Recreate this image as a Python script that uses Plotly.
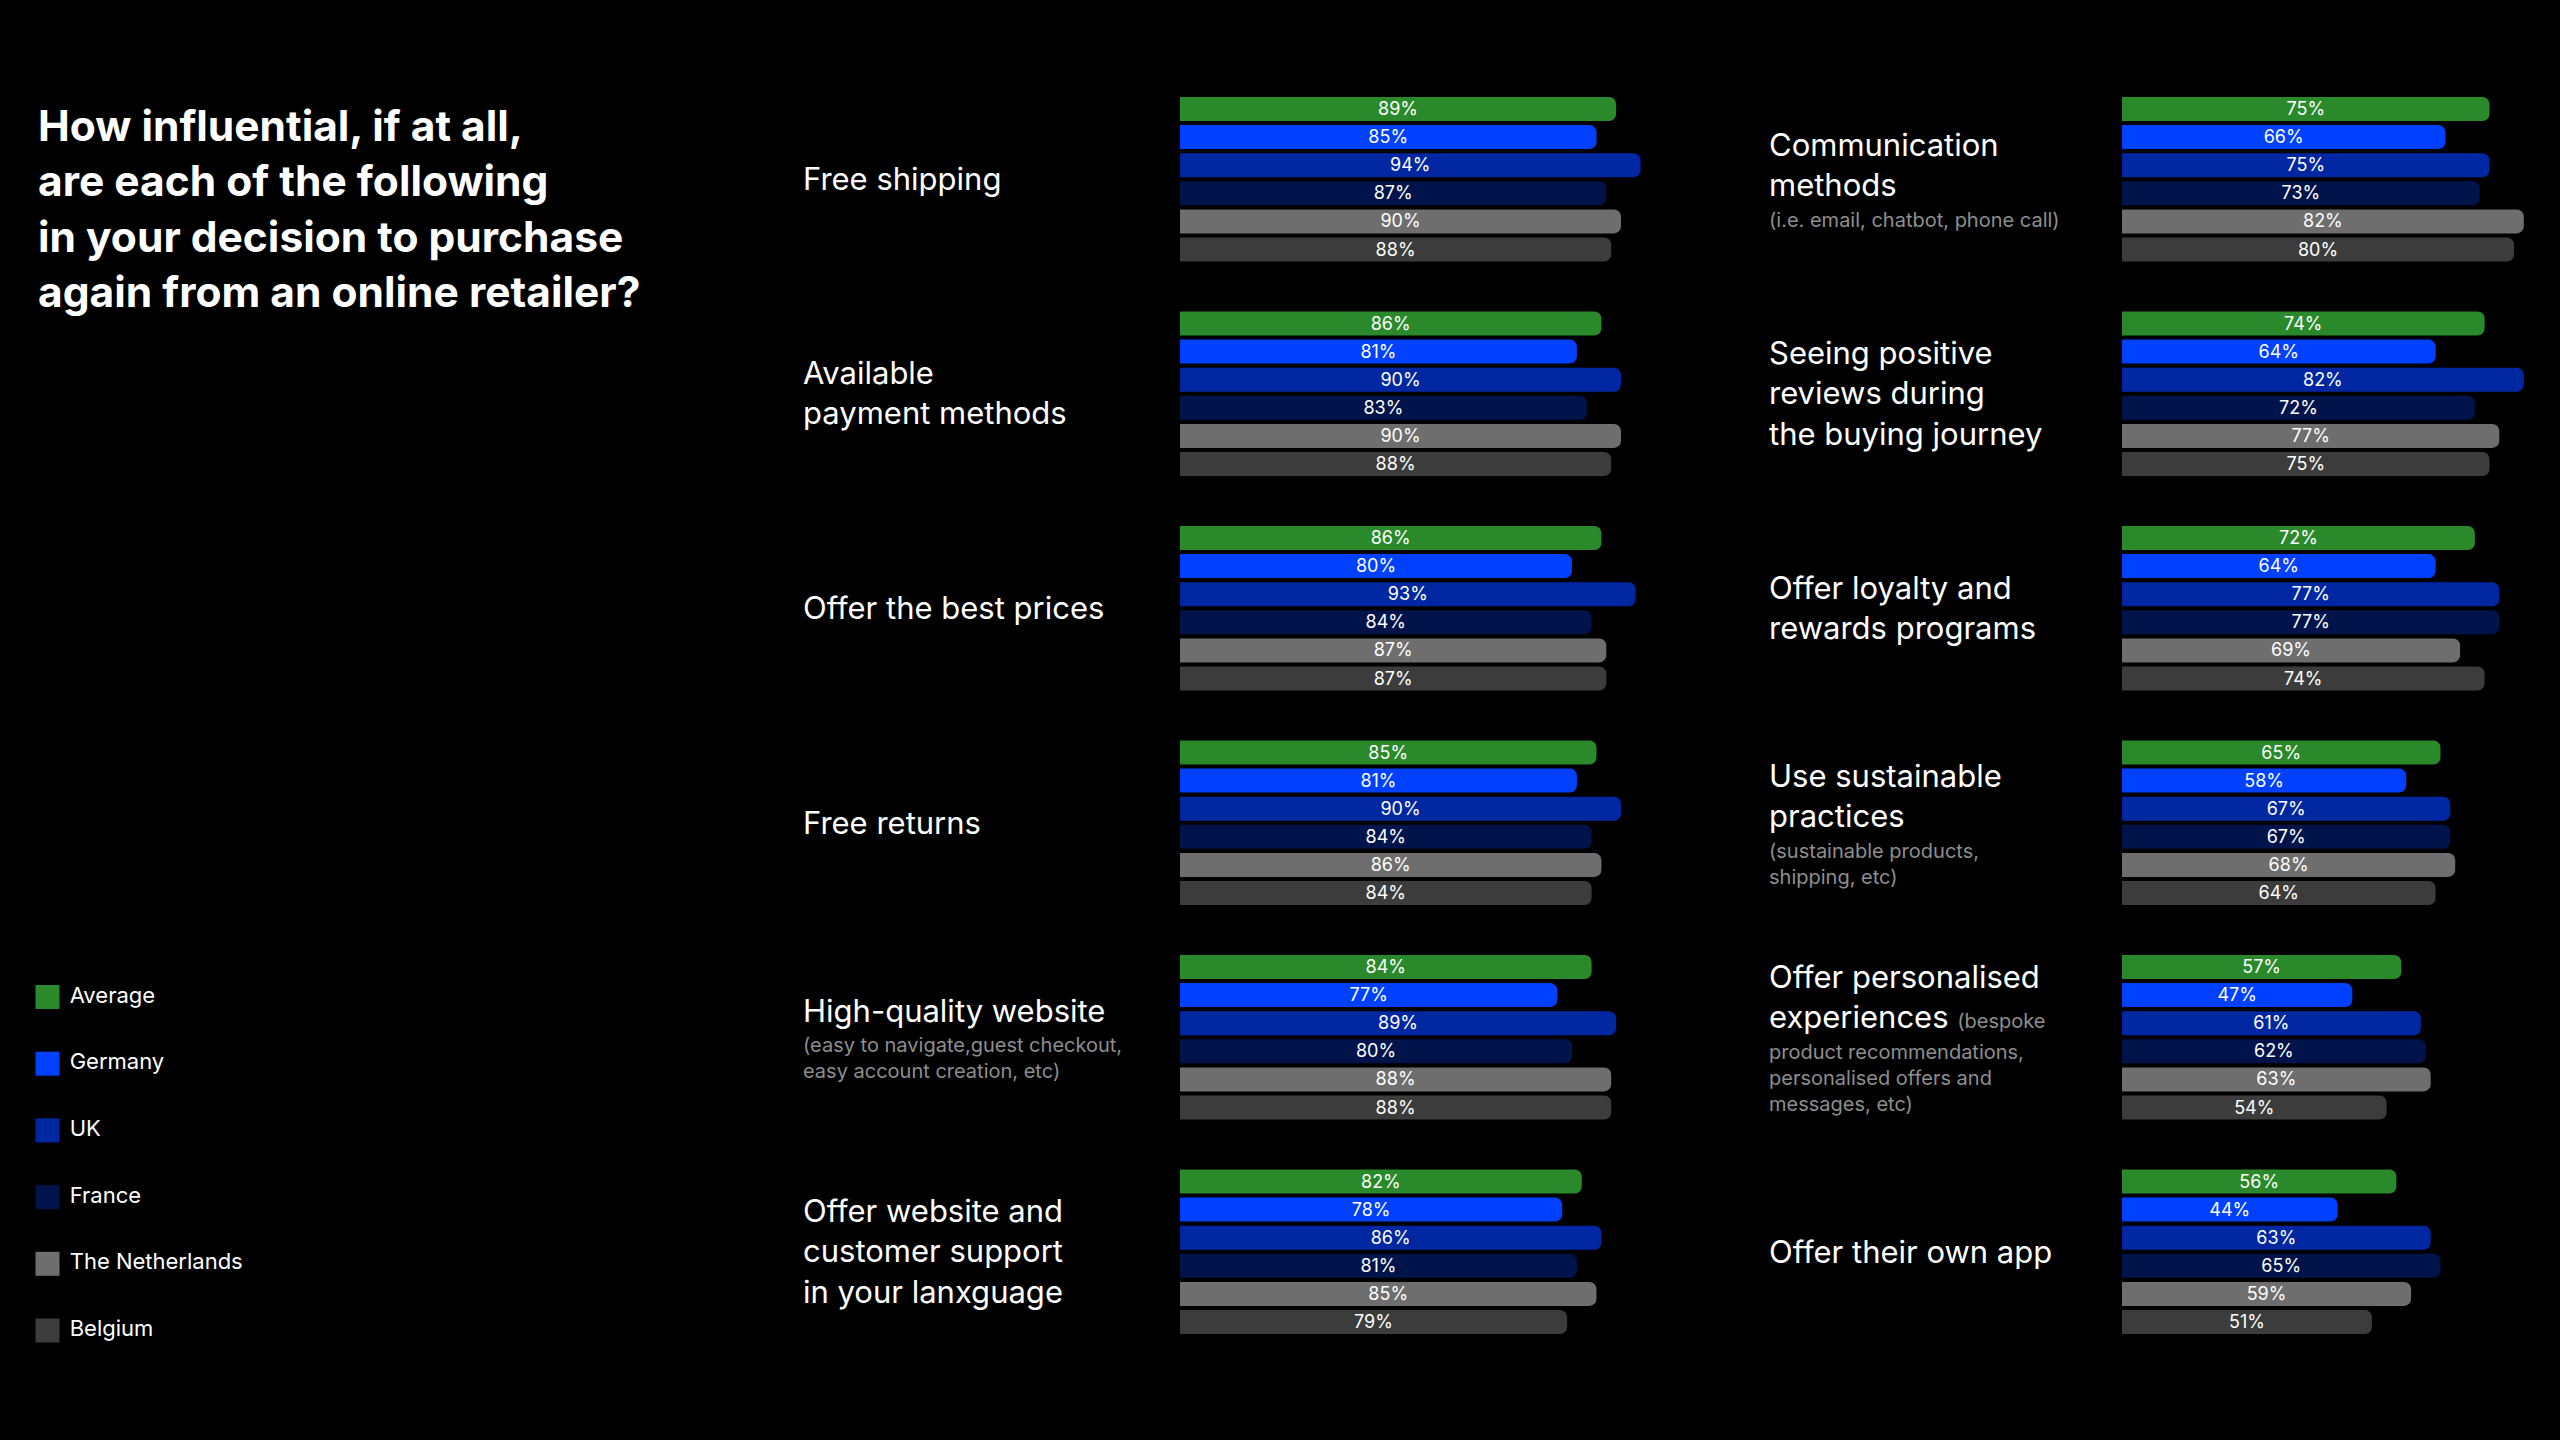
import plotly.graph_objects as go

# series / legend
countries = ["Average", "Germany", "UK", "France", "The Netherlands", "Belgium"]
colors = ["#2a8a2b", "#0040ff", "#0027a2", "#00134a", "#6e6e6e", "#3c3c3c"]

# left column
left_labels = ["Free shipping", "Available<br>payment methods", "Offer the best prices",
               "Free returns", "High-quality website",
               "Offer website and<br>customer support<br>in your lanxguage"]
left_subs = ["", "", "", "", "(easy to navigate,guest checkout,<br>easy account creation, etc)", ""]
left_values = [
    [89, 85, 94, 87, 90, 88],
    [86, 81, 90, 83, 90, 88],
    [86, 80, 93, 84, 87, 87],
    [85, 81, 90, 84, 86, 84],
    [84, 77, 89, 80, 88, 88],
    [82, 78, 86, 81, 85, 79],
]

# right column
right_labels = ["Communication<br>methods", "Seeing positive<br>reviews during<br>the buying journey",
                "Offer loyalty and<br>rewards programs", "Use sustainable<br>practices",
                "Offer personalised<br>experiences <span style='font-size:20px;color:#8e8e8e'>(bespoke</span>",
                "Offer their own app"]
right_subs = ["(i.e. email, chatbot, phone call)", "", "", "(sustainable products,<br>shipping, etc)",
              "product recommendations,<br>personalised offers and<br>messages, etc)", ""]
right_values = [
    [75, 66, 75, 73, 82, 80],
    [74, 64, 82, 72, 77, 75],
    [72, 64, 77, 77, 69, 74],
    [65, 58, 67, 67, 68, 64],
    [57, 47, 61, 62, 63, 54],
    [56, 44, 63, 65, 59, 51],
]

title = ("How influential, if at all,<br>are each of the following<br>"
         "in your decision to purchase<br>again from an online retailer?")

W, H = 2560, 1440
FONT = "Inter"
TOP, GROUP_STEP, BAR_STEP, BAR_H = 109, 214.5, 28.1, 24
PX_PER_PCT = 4.9
MAIN_SIZE, SUB_SIZE = 31, 20
TEXT_NUDGE = 1.5  # scatter text sits a touch high, push it to the bar's middle


def bar_y(g, c):
    return TOP + g * GROUP_STEP + c * BAR_STEP


fig = go.Figure()

for axis, vals in (("x", left_values), ("x2", right_values)):
    for c, name in enumerate(countries):
        xs = [row[c] for row in vals]
        ys = [bar_y(g, c) for g in range(len(vals))]
        fig.add_trace(go.Bar(
            x=xs, y=ys, orientation="h", width=BAR_H, name=name,
            xaxis=axis, yaxis="y", showlegend=False,
            marker=dict(color=colors[c], cornerradius=7, line=dict(width=0)),
            hoverinfo="skip",
        ))
        # value labels centred on each bar
        fig.add_trace(go.Scatter(
            x=[v / 2 for v in xs], y=[y + TEXT_NUDGE for y in ys], mode="text",
            xaxis=axis, yaxis="y",
            text=[f"{v}%" for v in xs], textposition="middle center",
            textfont=dict(family=FONT, size=18, color="white"),
            showlegend=False, hoverinfo="skip",
        ))

# legend drawn as square markers on a pixel axis
legend_y = [997 + i * 66.7 for i in range(len(countries))]
fig.add_trace(go.Scatter(
    x=[47.5] * len(countries), y=legend_y, mode="markers+text", xaxis="x3", yaxis="y",
    marker=dict(symbol="square", size=24, color=colors),
    text=[" " + c for c in countries], textposition="middle right",
    textfont=dict(family=FONT, size=22, color="white"),
    showlegend=False, hoverinfo="skip", cliponaxis=False,
))

annotations = [dict(
    text=title, xref="paper", yref="y", x=36 / W, y=98, xanchor="left", yanchor="top",
    align="left", showarrow=False,
    font=dict(family=FONT, size=42.5, color="white", weight=700),
)]


def add_labels(labels, subs, x_px):
    for g, (lab, sub) in enumerate(zip(labels, subs)):
        n_main = lab.count("<br>") + 1
        n_sub = sub.count("<br>") + 1 if sub else 0
        main_h = n_main * MAIN_SIZE * 1.3
        sub_h = n_sub * SUB_SIZE * 1.3
        gap = 1 if sub else 0
        center = bar_y(g, 2.5)
        top = center - (main_h + gap + sub_h) / 2
        annotations.append(dict(
            text=lab, xref="paper", yref="y", x=x_px / W, y=top, xanchor="left",
            yanchor="top", align="left", showarrow=False, borderpad=0,
            font=dict(family=FONT, size=MAIN_SIZE, color="white"),
        ))
        if sub:
            annotations.append(dict(
                text=sub, xref="paper", yref="y", x=x_px / W, y=top + main_h + gap,
                xanchor="left", yanchor="top", align="left", showarrow=False, borderpad=0,
                font=dict(family=FONT, size=SUB_SIZE, color="#8e8e8e"),
            ))


add_labels(left_labels, left_subs, 802)
add_labels(right_labels, right_subs, 1768)

left_x0, right_x0 = 1180, 2122
hidden = dict(visible=False, showgrid=False, zeroline=False, fixedrange=True)

fig.update_layout(
    width=W, height=H,
    margin=dict(l=0, r=0, t=0, b=0),
    paper_bgcolor="black", plot_bgcolor="rgba(0,0,0,0)",
    barmode="overlay",
    font=dict(family=FONT, color="white"),
    xaxis=dict(domain=[left_x0 / W, (left_x0 + 100 * PX_PER_PCT) / W], range=[0, 100], **hidden),
    xaxis2=dict(domain=[right_x0 / W, 1.0], range=[0, (W - right_x0) / PX_PER_PCT],
                anchor="y", **hidden),
    xaxis3=dict(domain=[0, 1], range=[0, W], anchor="y", **hidden),
    yaxis=dict(domain=[0, 1], range=[H, 0], **hidden),
    annotations=annotations,
)

fig.write_html(
    "out.html",
    config={"displayModeBar": False},
    post_script="document.body.style.margin='0';document.body.style.background='black';",
)
